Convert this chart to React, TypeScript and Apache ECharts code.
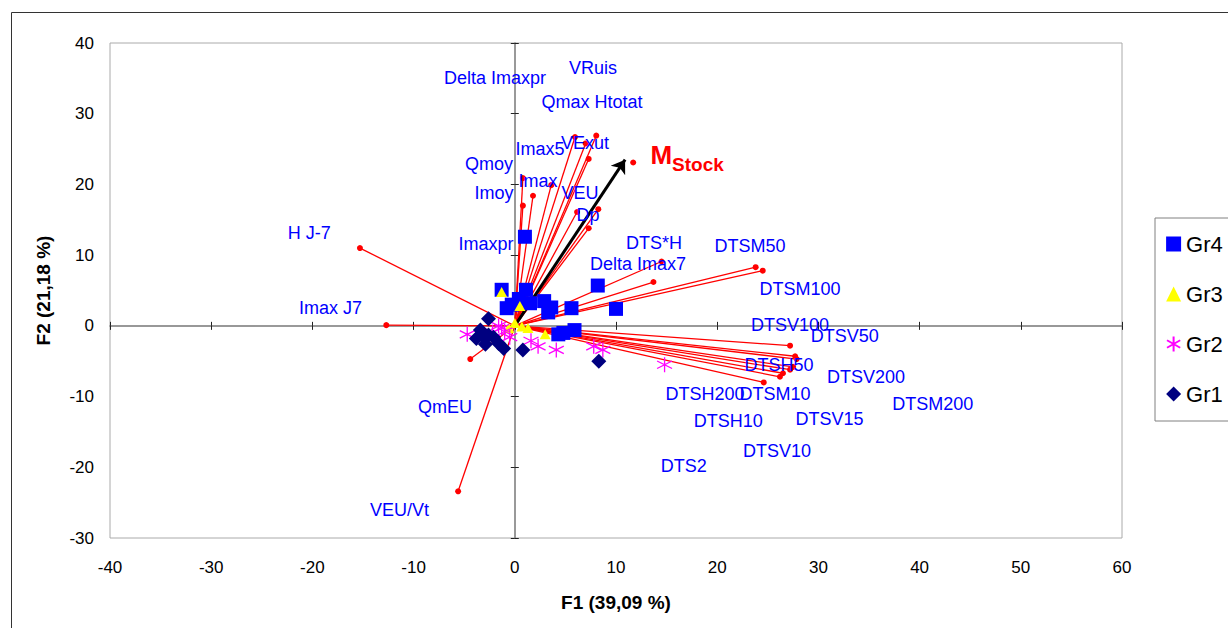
import React, { useEffect, useRef } from 'react';
import * as echarts from 'echarts';

const FONT = '"Liberation Sans", Arial, Helvetica, sans-serif';

// Axis settings
const xMin = -40;
const xMax = 60;
const yMin = -30;
const yMax = 40;
const tickStep = 10;

const groupNames = ['Gr4', 'Gr3', 'Gr2', 'Gr1'];

// Individuals (F1, F2)
const gr4: number[][] = [
  [1.0, 12.6], [-1.3, 5.1], [1.1, 5.1], [-0.8, 2.5], [0.4, 3.8], [-0.3, 3.0],
  [1.5, 3.2], [2.9, 3.5], [3.6, 2.6], [3.3, 1.9], [5.6, 2.5], [8.2, 5.7],
  [10.0, 2.4], [5.9, -0.6], [4.3, -1.2], [4.8, -1.0],
];
const gr3: number[][] = [
  [-1.3, 4.8], [0.5, 2.8], [0.0, 0.4], [0.7, -0.1], [1.3, -0.3], [3.0, -1.2], [-0.6, -0.3],
];
const gr2: number[][] = [
  [-4.7, -1.2], [-1.6, 0.0], [-1.0, -0.8], [-0.5, -1.6], [-1.3, -0.3], [-2.2, -0.9],
  [1.6, -2.1], [2.3, -2.9], [4.1, -3.4], [7.8, -2.9], [8.7, -3.4], [14.8, -5.5],
];
const gr1: number[][] = [
  [-2.6, 1.0], [-3.4, -0.6], [-3.8, -1.8], [-2.6, -1.3], [-2.1, -1.6], [-1.6, -2.5],
  [-1.1, -3.2], [-2.9, -2.6], [-3.2, -1.4], [0.8, -3.4], [8.3, -5.0],
];

// Variable vectors (end points, from origin)
const vectorEnds: number[][] = [
  [5.95, 26.7], [8.05, 26.9], [7.0, 25.8], [7.3, 23.6], [0.8, 20.9], [3.6, 19.9],
  [1.8, 18.4], [0.8, 17.0], [6.15, 16.1], [8.25, 16.5], [7.3, 13.8],
  [14.5, 9.1], [13.7, 6.2], [23.8, 8.3], [24.5, 7.8],
  [27.2, -2.8], [27.7, -4.3], [27.85, -4.7], [27.5, -5.8], [27.2, -6.2],
  [26.5, -6.7], [26.2, -7.2], [24.6, -8.0],
  [-15.3, 11.0], [-12.7, 0.1], [-4.4, -4.7], [-5.6, -23.4],
];

// Supplementary variable
const mStockArrow: number[] = [10.9, 23.5];
const mStockDot: number[] = [11.7, 23.1];
const mStockLabelPos: number[] = [13.4, 24.2];

// Variable labels [name, x, y]
const varLabels: [string, number, number][] = [
  ['Delta Imaxpr', -1.96, 35.06], ['VRuis', 7.73, 36.5], ['Qmax Htotat', 7.63, 31.6],
  ['VExut', 6.94, 25.9], ['Imax5', 2.49, 25.0], ['Qmoy', -2.55, 22.9],
  ['Imax', 2.29, 20.5], ['Imoy', -2.06, 18.8], ['VEU', 6.44, 18.8],
  ['Dp', 7.23, 15.7], ['Imaxpr', -2.85, 11.6], ['H J-7', -20.3, 13.1],
  ['DTS*H', 13.75, 11.7], ['Delta Imax7', 12.17, 8.76], ['DTSM50', 23.24, 11.3],
  ['DTSM100', 28.18, 5.2], ['Imax J7', -18.2, 2.5], ['DTSV100', 27.19, 0.13],
  ['DTSV50', 32.6, -1.4], ['DTSH50', 26.1, -5.6], ['DTSV200', 34.7, -7.2],
  ['DTSM10', 25.7, -9.6], ['DTSH200', 18.8, -9.6], ['DTSM200', 41.3, -11.0],
  ['QmEU', -6.9, -11.5], ['DTSH10', 21.1, -13.4], ['DTSV15', 31.1, -13.2],
  ['DTSV10', 25.9, -17.7], ['DTS2', 16.7, -19.8], ['VEU/Vt', -11.4, -26.0],
];

const ASTERISK = 'path://M5,0L5,10M0.6,2.5L9.4,7.5M0.6,7.5L9.4,2.5';

export default function App() {
  const ref = useRef<HTMLDivElement>(null);

  useEffect(() => {
    if (!ref.current) return;
    const chart = echarts.init(ref.current, undefined, { renderer: 'svg' });

    const baseAxis = (dimMin: number, dimMax: number) => ({
      type: 'value' as const,
      min: dimMin,
      max: dimMax,
      interval: tickStep,
      splitLine: { show: false },
    });
    const zeroLine = { show: true, onZero: true, onZeroAxisIndex: 0, lineStyle: { color: '#777', width: 1.5 } };
    const tickStyle = { color: '#222', width: 1 };

    const option: any = {
      animation: false,
      backgroundColor: '#ffffff',
      textStyle: { fontFamily: FONT },
      grid: {
        left: 110, top: 43, width: 1012, height: 495,
        show: true, borderColor: '#aaaaaa', borderWidth: 1,
        containLabel: false, outerBoundsMode: 'none',
      },
      xAxis: [
        {
          ...baseAxis(xMin, xMax),
          position: 'bottom',
          axisLine: { show: false, onZero: false },
          axisTick: { show: false },
          axisLabel: { margin: 21, fontSize: 17, color: '#000', fontFamily: FONT },
          name: 'F1 (39,09 %)',
          nameLocation: 'middle',
          nameGap: 55,
          nameTextStyle: { fontSize: 19, fontWeight: 'bold', color: '#000', fontFamily: FONT },
        },
        {
          ...baseAxis(xMin, xMax),
          position: 'bottom',
          axisLine: zeroLine,
          axisTick: { show: true, length: 4, lineStyle: tickStyle },
          axisLabel: { show: false },
        },
        {
          ...baseAxis(xMin, xMax),
          position: 'bottom',
          axisLine: { show: false, onZero: true, onZeroAxisIndex: 0 },
          axisTick: { show: true, inside: true, length: 4, lineStyle: tickStyle },
          axisLabel: { show: false },
        },
      ],
      yAxis: [
        {
          ...baseAxis(yMin, yMax),
          position: 'left',
          axisLine: { show: false, onZero: false },
          axisTick: { show: false },
          axisLabel: { margin: 16, fontSize: 17, color: '#000', fontFamily: FONT },
          name: 'F2 (21,18 %)',
          nameLocation: 'middle',
          nameGap: 57,
          nameTextStyle: { fontSize: 19, fontWeight: 'bold', color: '#000', fontFamily: FONT },
        },
        {
          ...baseAxis(yMin, yMax),
          position: 'left',
          axisLine: zeroLine,
          axisTick: { show: true, length: 4, lineStyle: tickStyle },
          axisLabel: { show: false },
        },
        {
          ...baseAxis(yMin, yMax),
          position: 'left',
          axisLine: { show: false, onZero: true, onZeroAxisIndex: 0 },
          axisTick: { show: true, inside: true, length: 4, lineStyle: tickStyle },
          axisLabel: { show: false },
        },
      ],
      legend: {
        data: groupNames,
        orient: 'vertical',
        left: 1155,
        top: 218,
        padding: [15, 40, 16, 11],
        itemGap: 28,
        itemWidth: 15,
        itemHeight: 15,
        borderColor: '#808080',
        borderWidth: 1,
        backgroundColor: '#ffffff',
        textStyle: { fontSize: 22, color: '#000', fontFamily: FONT },
      },
      graphic: [
        {
          type: 'rect',
          silent: true,
          z: -10,
          shape: { x: 11.5, y: 12.5, width: 1300, height: 700 },
          style: { fill: 'none', stroke: '#333', lineWidth: 1 },
        },
      ],
      series: [
        {
          type: 'lines',
          coordinateSystem: 'cartesian2d',
          xAxisIndex: 0,
          yAxisIndex: 0,
          silent: true,
          data: vectorEnds.map((e) => ({ coords: [[0, 0], e] })),
          lineStyle: { color: '#ff0000', width: 1.3, opacity: 1, curveness: 0 },
        },
        {
          type: 'scatter',
          name: 'ends',
          silent: true,
          symbol: 'circle',
          symbolSize: 6,
          itemStyle: { color: '#ff0000', opacity: 1 },
          data: [...vectorEnds, mStockDot],
        },
        {
          type: 'scatter',
          name: 'Gr4',
          symbol: 'rect',
          symbolSize: 14,
          itemStyle: { color: '#0000ff', opacity: 1 },
          data: gr4,
        },
        {
          type: 'scatter',
          name: 'Gr3',
          symbol: 'triangle',
          symbolSize: [11, 10],
          itemStyle: { color: '#ffff00', opacity: 1 },
          data: gr3,
        },
        {
          type: 'scatter',
          name: 'Gr2',
          symbol: ASTERISK,
          symbolSize: 15,
          itemStyle: { color: 'rgba(0,0,0,0)', borderColor: '#ff00ff', borderWidth: 1.3, opacity: 1 },
          data: gr2,
        },
        {
          type: 'scatter',
          name: 'Gr1',
          symbol: 'diamond',
          symbolSize: 15,
          itemStyle: { color: '#000080', opacity: 1 },
          data: gr1,
        },
        {
          type: 'lines',
          coordinateSystem: 'cartesian2d',
          xAxisIndex: 0,
          yAxisIndex: 0,
          silent: true,
          symbol: ['none', 'arrow'],
          symbolSize: 13,
          data: [{ coords: [[0, 0], mStockArrow] }],
          lineStyle: { color: '#000000', width: 3, opacity: 1 },
        },
        {
          type: 'scatter',
          name: 'varLabels',
          silent: true,
          symbol: 'circle',
          symbolSize: 0,
          itemStyle: { color: 'rgba(0,0,0,0)', opacity: 1 },
          data: varLabels.map(([n, x, y]) => ({ name: n, value: [x, y] })),
          label: {
            show: true,
            position: 'inside',
            formatter: '{b}',
            color: '#0000ff',
            opacity: 1,
            fontSize: 18,
            fontFamily: FONT,
          },
        },
        {
          type: 'scatter',
          name: 'mstockLabel',
          silent: true,
          symbol: 'circle',
          symbolSize: 0,
          itemStyle: { color: 'rgba(0,0,0,0)', opacity: 1 },
          data: [{ name: 'M Stock', value: mStockLabelPos }],
          label: {
            show: true,
            position: 'inside',
            align: 'left',
            verticalAlign: 'middle',
            opacity: 1,
            formatter: '{m|M}{s|Stock}',
            rich: {
              m: { fontSize: 26, fontWeight: 'bold', color: '#ff0000', fontFamily: FONT },
              s: { fontSize: 19, fontWeight: 'bold', color: '#ff0000', fontFamily: FONT, padding: [20, 0, 0, 0] },
            },
          },
        },
      ],
    };

    chart.setOption(option);
    return () => chart.dispose();
  }, []);

  return (
    <div
      ref={ref}
      style={{ position: 'absolute', left: 0, top: 0, width: 1228, height: 628, background: '#fff' }}
    />
  );
}
